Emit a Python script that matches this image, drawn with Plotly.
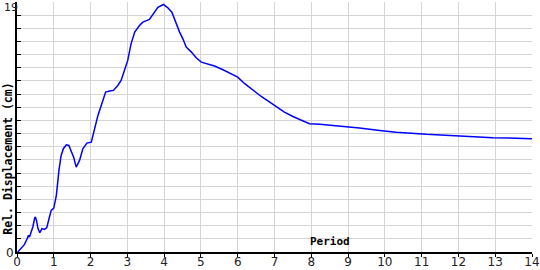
import plotly.graph_objects as go

period = [0.02, 0.11, 0.20, 0.28, 0.31, 0.34, 0.39, 0.43, 0.48, 0.50, 0.53, 0.57, 0.62, 0.68,
          0.75, 0.81, 0.87, 0.93, 1.00, 1.07, 1.14, 1.20, 1.26, 1.34, 1.41, 1.47, 1.54, 1.61,
          1.70, 1.79, 1.90, 2.02, 2.11, 2.20, 2.29, 2.41, 2.52, 2.62, 2.74, 2.83, 2.92, 3.01,
          3.10, 3.20, 3.33, 3.42, 3.60, 3.71, 3.83, 3.98, 4.10, 4.21, 4.33, 4.42, 4.51, 4.60,
          4.74, 4.87, 5.01, 5.19, 5.37, 5.60, 5.82, 6.00, 6.19, 6.41, 6.64, 6.87, 7.05, 7.27,
          7.50, 7.73, 7.95, 8.23, 8.59, 8.95, 9.31, 9.86, 10.31, 11.13, 11.94, 12.94, 14.0]
displacement = [0.0, 0.26, 0.56, 1.02, 1.27, 1.14, 1.52, 1.9, 2.58, 2.66, 2.4, 1.78, 1.47, 1.78,
                1.72, 1.85, 2.53, 3.16, 3.34, 4.3, 6.2, 7.34, 7.85, 8.15, 8.1, 7.72, 7.21, 6.45,
                6.96, 7.85, 8.28, 8.35, 9.37, 10.38, 11.14, 12.15, 12.23, 12.28, 12.66, 13.04, 13.8, 14.56,
                15.82, 16.71, 17.21, 17.47, 17.67, 18.1, 18.6, 18.81, 18.56, 18.23, 17.34, 16.71, 16.2, 15.57,
                15.19, 14.76, 14.43, 14.3, 14.13, 13.85, 13.54, 13.29, 12.79, 12.28, 11.82, 11.39, 11.06, 10.63,
                10.3, 10.05, 9.75, 9.7, 9.62, 9.54, 9.42, 9.24, 9.11, 8.94, 8.81, 8.69, 8.61]

x_ticks = list(range(0, 15))
y_ticks = list(range(0, 20))
y_labels = [(0, "0"), (19, "19")]

fig = go.Figure()
fig.add_trace(go.Scatter(x=period, y=displacement, mode="lines",
                         line=dict(color="#0000ff", width=1.5), hoverinfo="skip"))

mono = "DejaVu Sans Mono"
annotations = [
    dict(text="<b>Rel. Displacement (cm)</b>", xref="paper", yref="paper",
         x=-0.018, y=0.372, textangle=-90, showarrow=False,
         font=dict(family=mono, size=11.5, color="black"),
         xanchor="center", yanchor="middle"),
    dict(text="<b>Period</b>", xref="paper", yref="paper",
         x=0.607, y=0.041, showarrow=False,
         font=dict(family=mono, size=11, color="black"),
         xanchor="center", yanchor="middle"),
]
for val, txt in y_labels:
    if val == 0:
        annotations.append(dict(text=txt, xref="paper", yref="y", x=-0.003, y=val,
                                yshift=-1, showarrow=False, xanchor="right", yanchor="middle",
                                borderpad=0,
                                font=dict(family="DejaVu Sans", size=12, color="#222222")))
    else:
        annotations.append(dict(text=txt, xref="paper", yref="y", x=0.003, y=val,
                                yshift=2, showarrow=False, xanchor="right", yanchor="top",
                                borderpad=0,
                                font=dict(family="DejaVu Sans", size=11, color="#222222")))

fig.update_layout(
    width=540, height=270,
    margin=dict(l=17, r=8, t=2, b=18),
    paper_bgcolor="white", plot_bgcolor="white",
    showlegend=False,
    font=dict(family="DejaVu Sans", size=12, color="#222222"),
    xaxis=dict(range=[0, 14], tickvals=x_ticks, ticktext=[str(v) for v in x_ticks],
               showgrid=True, gridcolor="#d4d4d4", gridwidth=1,
               showline=True, linecolor="black", linewidth=1.5,
               ticks="outside", ticklen=3, tickcolor="black", tickwidth=1,
               zeroline=False, tickfont=dict(size=12), ticklabelstandoff=-5,
               automargin=False),
    yaxis=dict(range=[0, 19], tickvals=y_ticks, showticklabels=False,
               showgrid=True, gridcolor="#d4d4d4", gridwidth=1,
               showline=True, linecolor="black", linewidth=1.5,
               ticks="inside", ticklen=4, tickcolor="black", tickwidth=1,
               zeroline=False, automargin=False),
    annotations=annotations,
)

fig.write_html("out.html")
